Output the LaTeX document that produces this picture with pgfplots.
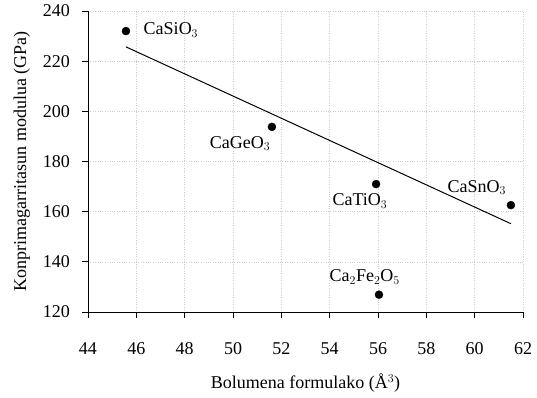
\documentclass[border=0pt]{standalone}
\usepackage{fontspec}
\setmainfont{Liberation Serif}
\usepackage{pgfplots}
\pgfplotsset{compat=1.18}
\begin{document}
\fontsize{18}{21}\selectfont
\begin{tikzpicture}
\begin{axis}[
  scale only axis,
  width=435pt, height=301pt,
  xmin=44, xmax=62, ymin=120, ymax=240,
  xtick={44,46,...,62}, ytick={120,140,...,240},
  axis x line*=bottom, axis y line*=left,
  axis line style={line width=0.8pt},
  tick style={black, line width=0.8pt},
  tick align=outside, major tick length=6pt,
  grid=major,
  major grid style={gray!40, dotted, line width=0.6pt},
  /pgf/number format/assume math mode=true,
  tick label style={font=\fontsize{18}{21}\selectfont},
  xticklabel style={yshift=-18pt},
  yticklabel style={xshift=-6pt},
  label style={font=\fontsize{18}{21}\selectfont},
  xlabel={Bolumena formulako (Å$^3$)},
  ylabel={Konprimagarritasun modulua (GPa)},
  xlabel style={at={(axis description cs:0.5,-0.236)}, anchor=center},
  ylabel style={at={(axis description cs:-0.152,0.5)}, anchor=center},
  clip=false,
]
\addplot[only marks, mark=*, mark size=4pt, black] coordinates {
 (45.57,232) (51.61,193.8) (55.92,171) (61.5,162.6) (56.04,126.9)
};
\addplot[black, line width=1pt] coordinates {(45.57,225.7) (61.5,155.2)};
\node[anchor=west] at (axis cs:46.05,232.5) {CaSiO$_3$};
\node[anchor=north east] at (axis cs:51.8,192.5) {CaGeO$_3$};
\node[anchor=north] at (axis cs:55.25,169.5) {CaTiO$_3$};
\node[anchor=south east] at (axis cs:61.55,164.3) {CaSnO$_3$};
\node[anchor=south] at (axis cs:55.45,128.5) {Ca$_2$Fe$_2$O$_5$};
\end{axis}
\pgfresetboundingbox
\path[use as bounding box] ([xshift=-88pt,yshift=-86pt]current axis.south west) rectangle ([xshift=14pt,yshift=11pt]current axis.north east);
\end{tikzpicture}
\end{document}
